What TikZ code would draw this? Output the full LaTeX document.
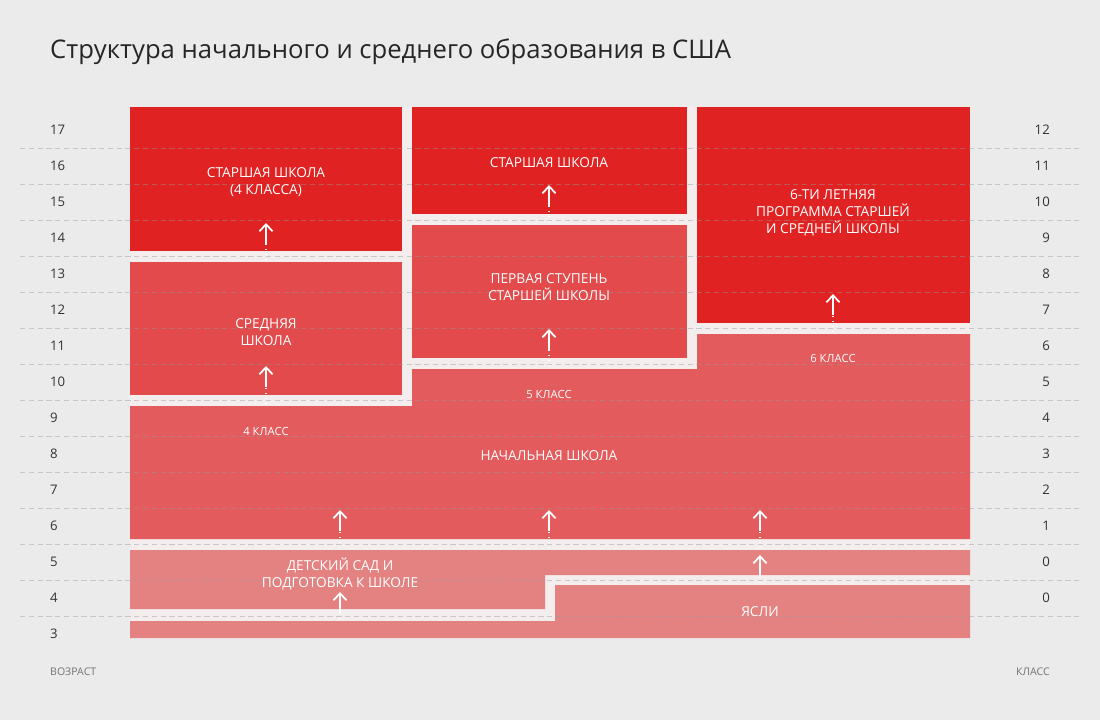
\documentclass[tikz,border=0pt]{standalone}
\usepackage{fontspec}
\setmainfont{Open Sans}
\usetikzlibrary{arrows.meta}
\definecolor{bg}{HTML}{ECEBEB}
\definecolor{gap}{HTML}{F4EDED}
\definecolor{redA}{HTML}{E02222}
\definecolor{redB}{HTML}{E24A4B}
\definecolor{redC}{HTML}{E35B5C}
\definecolor{redD}{HTML}{E38280}
\definecolor{axis}{HTML}{333333}
\tikzset{
  blocklabel/.style={text=white,font=\fontsize{7.8pt}{9.8pt}\selectfont,align=center},
  smalllabel/.style={text=white,font=\fontsize{6.4pt}{8pt}\selectfont},
  agelabel/.style={text=axis,font=\fontsize{7.5pt}{9pt}\selectfont,anchor=west},
  gradelabel/.style={text=axis,font=\fontsize{7.5pt}{9pt}\selectfont,anchor=east},
  rowline/.style={dashed,black!40,opacity=0.45,line width=0.4pt,dash pattern=on 3pt off 2pt},
  upflow/.style={white,line width=0.8pt,dotted},
  uphead/.style={white,line width=1pt,-{Straight Barb[length=4pt,width=7.5pt,line width=1pt]}},
}
\begin{document}
\begin{tikzpicture}[x=0.02cm,y=-0.02cm]
\fill[bg] (0,0) rectangle (1100,720);
\useasboundingbox (0,0) rectangle (1100,720);
\node[anchor=west,text=black!85,font=\fontsize{14.6pt}{17pt}\selectfont] (title) at (44,52) {Структура начального и среднего образования в США};
% gaps
\fill[gap] (130,107) rectangle (970,638);
% blocks
\fill[redA] (130,107) rectangle (402,251);
\fill[redB] (130,262) rectangle (402,395);
\fill[redA] (412,107) rectangle (687,214);
\fill[redB] (412,225) rectangle (687,358);
\fill[redA] (697,107) rectangle (970,323);
\fill[redC] (130,406) -- (412,406) -- (412,369) -- (697,369) -- (697,334) -- (970,334) -- (970,539) -- (130,539) -- cycle;
\fill[redD] (130,550) -- (970,550) -- (970,575) -- (545,575) -- (545,609) -- (130,609) -- cycle;
\fill[redD] (130,621) -- (555,621) -- (555,585) -- (970,585) -- (970,638) -- (130,638) -- cycle;
% row lines
\foreach \r in {0,...,13}
  \draw[rowline] (20,148+36*\r) -- (1080,148+36*\r);
% ages and grades
\foreach \a [count=\i from 0] in {17,16,15,14,13,12,11,10,9,8,7,6,5,4,3}
  \node[agelabel] (age\a) at (44,130+36*\i) {\a};
\foreach \g [count=\i from 0] in {12,11,10,9,8,7,6,5,4,3,2,1,0,0}
  \node[gradelabel] (grade\i) at (1056,130+36*\i) {\g};
\node[anchor=west,text=black!55,font=\fontsize{6pt}{7pt}\selectfont] (agetitle) at (44,672) {ВОЗРАСТ};
\node[anchor=east,text=black!55,font=\fontsize{6pt}{7pt}\selectfont] (gradetitle) at (1056,672) {КЛАСС};
% labels
\node[blocklabel] (senior4) at (266,182) {СТАРШАЯ ШКОЛА\\(4 КЛАССА)};
\node[blocklabel] (middle) at (266,332) {СРЕДНЯЯ\\ШКОЛА};
\node[blocklabel] (senior) at (549,163) {СТАРШАЯ ШКОЛА};
\node[blocklabel] (firststage) at (549,287) {ПЕРВАЯ СТУПЕНЬ\\СТАРШЕЙ ШКОЛЫ};
\node[blocklabel] (sixyear) at (833,213) {6-ТИ ЛЕТНЯЯ\\ПРОГРАММА СТАРШЕЙ\\И СРЕДНЕЙ ШКОЛЫ};
\node[blocklabel] (primary) at (549,456) {НАЧАЛЬНАЯ ШКОЛА};
\node[blocklabel] (kinder) at (340,574) {ДЕТСКИЙ САД И\\ПОДГОТОВКА К ШКОЛЕ};
\node[blocklabel] (nursery) at (760,612) {ЯСЛИ};
\node[smalllabel] (grade4) at (266,431) {4 КЛАСС};
\node[smalllabel] (grade5) at (549,394) {5 КЛАСС};
\node[smalllabel] (grade6) at (833,358) {6 КЛАСС};
% arrows
\coordinate (s1) at (266,260); \coordinate (e1) at (266,223);
\coordinate (s2) at (266,404); \coordinate (e2) at (266,366);
\coordinate (s3) at (549,222); \coordinate (e3) at (549,185);
\coordinate (s4) at (549,366); \coordinate (e4) at (549,329);
\coordinate (s5) at (833,332); \coordinate (e5) at (833,294);
\coordinate (s6) at (340,548); \coordinate (e6) at (340,510);
\coordinate (s7) at (549,548); \coordinate (e7) at (549,510);
\coordinate (s8) at (760,548); \coordinate (e8) at (760,510);
\coordinate (s9) at (760,583); \coordinate (e9) at (760,555);
\coordinate (s10) at (340,619); \coordinate (e10) at (340,592);
\foreach \k in {1,...,10}{
  \draw[upflow] (s\k) -- ([yshift=-12]e\k);
  \draw[uphead] ([yshift=-12]e\k) -- (e\k);
}
\end{tikzpicture}
\end{document}
